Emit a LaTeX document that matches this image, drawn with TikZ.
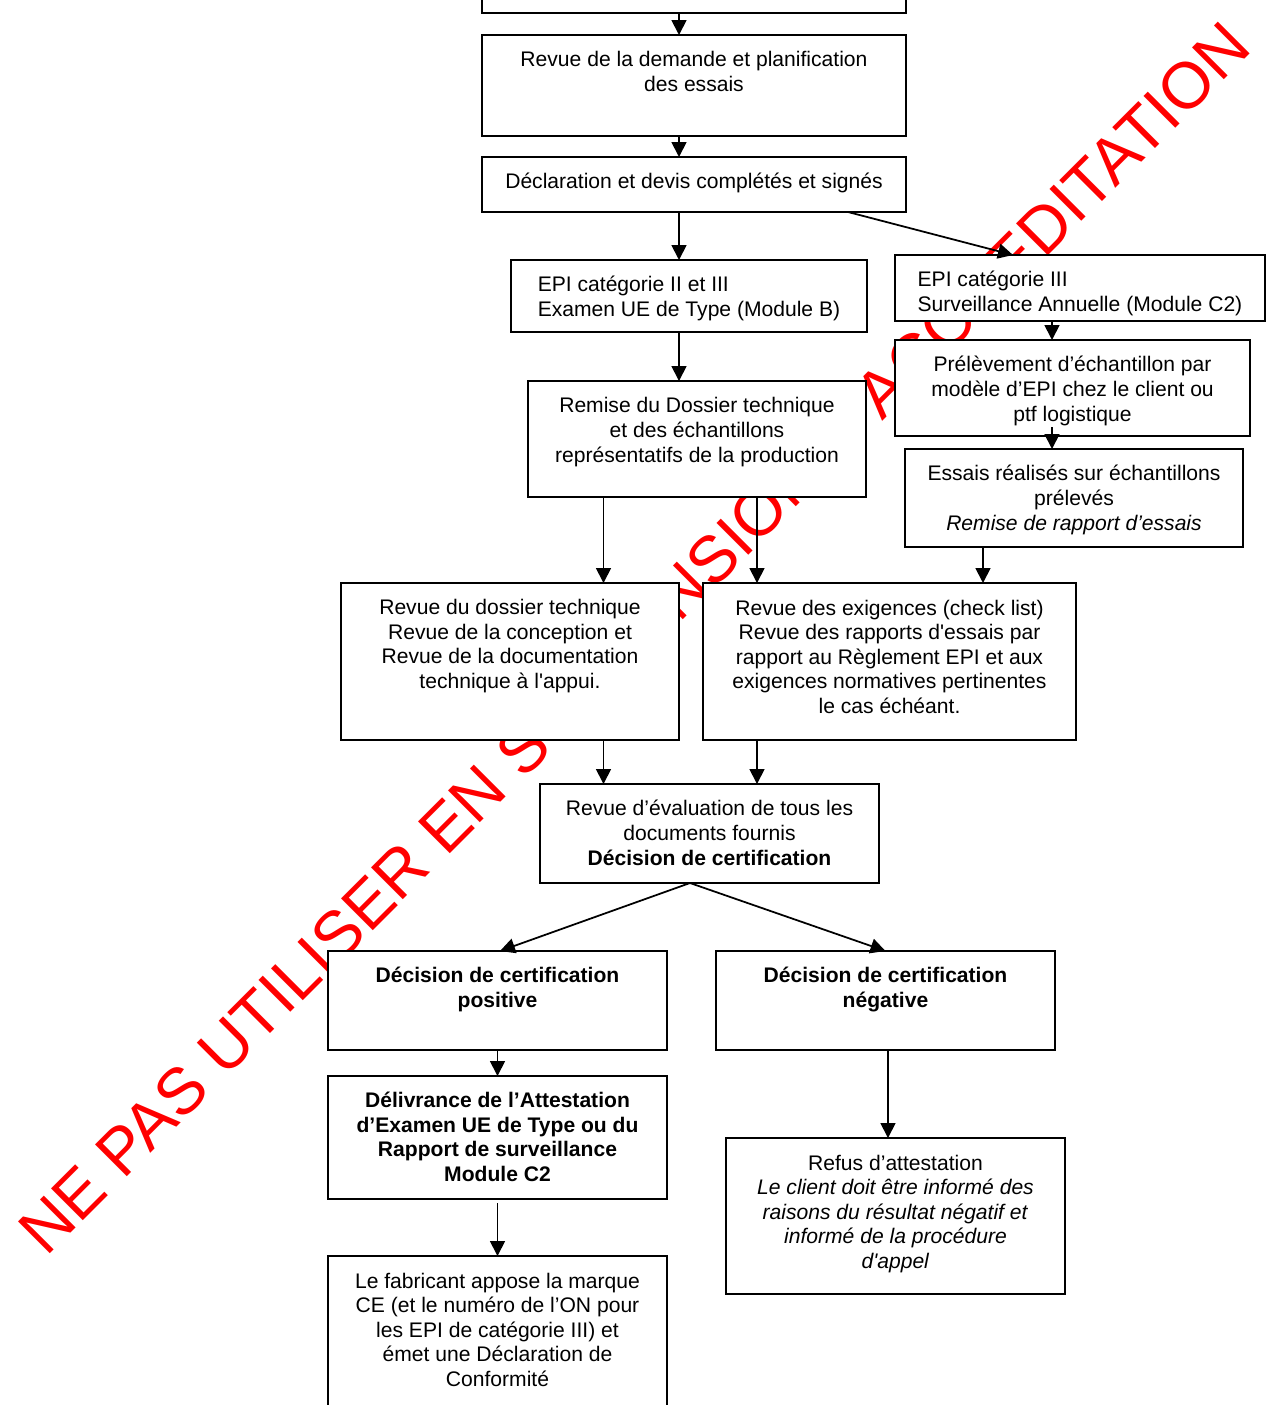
\documentclass[tikz,border=0pt]{standalone}
\usepackage{fontspec}
\setmainfont{Liberation Sans}[Ligatures=TeXOff]
\usepackage{tikz}
\usetikzlibrary{arrows.meta}
\usetikzlibrary{calc}
\tikzstyle{etape}=[
        draw,
        fill=white,
        line width=1pt,
        outer sep=0pt,
        inner xsep=0.1cm,
        inner ysep=0pt,
        align=center,
        minimum width=6.78cm,
        font=\fontsize{12}{14}\selectfont
]
\tikzstyle{gauche}=[etape,align=left]
\tikzstyle{gras}=[font=\fontsize{12}{14}\selectfont\bfseries]
\tikzstyle{filigrane}=[text=red,rotate=45,inner sep=0pt,font=\fontsize{37.2}{37.2}\selectfont]
\tikzstyle{suite}=[->,>={Triangle[length=0.3cm,width=0.3cm]},line width=1pt]

\begin{document}
\begin{tikzpicture}
\useasboundingbox (0,0) rectangle (25.32,-28.10);
\node[filigrane] (tampon) at (12.68,-12.76) {NE PAS UTILISER EN SUSPENSION D’ACCREDITATION};
\node[etape,minimum width=8.48cm,text height=0.63cm,text depth=0.43cm] (demande) at (13.88,0.27) {};
\node[etape,minimum width=8.48cm,text height=1.12cm,text depth=0.90cm] (revue) at (13.88,-1.71) {Revue de la demande et planification\\des essais};
\node[etape,minimum width=8.48cm,text height=0.63cm,text depth=0.47cm] (declaration) at (13.88,-3.69) {Déclaration et devis complétés et signés};
\node[gauche,minimum width=7.12cm,text height=1.12cm,text depth=0.32cm] (typeb) at (13.78,-5.92) {EPI catégorie II et III\\Examen UE de Type (Module B)};
\node[gauche,minimum width=7.40cm,text height=1.12cm,text depth=0.20cm] (survc) at (21.60,-5.76) {EPI catégorie III\\Surveillance Annuelle (Module C2)};
\node[etape,minimum width=6.76cm,text height=1.62cm,text depth=0.70cm] (remise) at (13.94,-8.78) {Remise du Dossier technique\\et des échantillons\\représentatifs de la production};
\node[etape,minimum width=7.10cm,text height=1.62cm,text depth=0.30cm] (prelev) at (21.45,-7.76) {Prélèvement d’échantillon par\\modèle d’EPI chez le client ou\\ptf logistique};
\node[etape,minimum width=6.76cm,text height=1.62cm,text depth=0.34cm] (essais) at (21.48,-9.96) {Essais réalisés sur échantillons\\prélevés\\\textit{Remise de rapport d’essais}};
\node[etape,minimum width=6.76cm,text height=2.11cm,text depth=1.03cm] (dossier) at (10.20,-13.23) {Revue du dossier technique\\Revue de la conception et\\Revue de la documentation\\technique à l'appui.};
\node[etape,minimum width=7.46cm,text height=2.61cm,text depth=0.53cm] (exigences) at (17.79,-13.23) {Revue des exigences (check list)\\Revue des rapports d'essais par\\rapport au Règlement EPI et aux\\exigences normatives pertinentes\\le cas échéant.};
\node[etape,text height=1.62cm,text depth=0.36cm] (evaluation) at (14.19,-16.67) {Revue d’évaluation de tous les\\documents fournis\\\textbf{Décision de certification}};
\node[etape,gras,text height=1.12cm,text depth=0.86cm] (positive) at (9.95,-20.01) {Décision de certification\\positive};
\node[etape,gras,text height=1.12cm,text depth=0.86cm] (negative) at (17.71,-20.01) {Décision de certification\\négative};
\node[etape,gras,text height=2.11cm,text depth=0.35cm] (delivrance) at (9.95,-22.75) {Délivrance de l’Attestation\\d’Examen UE de Type ou du\\Rapport de surveillance\\Module C2};
\node[etape,text height=2.61cm,text depth=0.99cm] (marque) at (9.95,-26.92) {Le fabricant appose la marque\\CE (et le numéro de l’ON pour\\les EPI de catégorie III) et\\émet une Déclaration de\\Conformité};
\node[etape,text height=2.61cm,text depth=0.51cm] (refus) at (17.91,-24.32) {Refus d’attestation\\\textit{Le client doit être informé des}\\\textit{raisons du résultat négatif et}\\\textit{informé de la procédure}\\\textit{d'appel}};
%Drawing Edges
\coordinate (axe1) at (13.58,0);
\coordinate (axe2) at (21.04,0);
\coordinate (axe3) at (19.66,0);
\coordinate (axe4) at (15.14,0);
\coordinate (axe5) at (12.07,0);
\coordinate (axe6) at (17.76,0);
\draw[suite] (demande.south -| axe1) -- (revue.north -| axe1);
\draw[suite] (revue.south -| axe1) -- (declaration.north -| axe1);
\draw[suite] (declaration.south -| axe1) -- (typeb.north -| axe1);
\draw[suite] ([xshift=3.08cm]declaration.south) -- ([xshift=-1.34cm]survc.north);
\draw[suite] (typeb.south -| axe1) -- (remise.north -| axe1);
\draw[suite] (survc.south -| axe2) -- (prelev.north -| axe2);
\draw[suite] ($(prelev.south -| axe2)+(0,0.18)$) -- (essais.north -| axe2);
\draw[suite] (essais.south -| axe3) -- (exigences.north -| axe3);
\draw[suite] (remise.south -| axe5) -- (dossier.north -| axe5);
\draw[suite] (remise.south -| axe4) -- (exigences.north -| axe4);
\draw[suite] (dossier.south -| axe5) -- (evaluation.north -| axe5);
\draw[suite] (exigences.south -| axe4) -- (evaluation.north -| axe4);
\draw[suite] ([xshift=-0.39cm]evaluation.south) -- ([xshift=0.05cm]positive.north);
\draw[suite] ([xshift=-0.39cm]evaluation.south) -- (negative.north);
\draw[suite] (positive) -- (delivrance);
\draw[suite] ([yshift=-0.08cm]delivrance.south) -- (marque.north);
\draw[suite] (negative.south -| axe6) -- (refus.north -| axe6);
\end{tikzpicture}
\end{document}
